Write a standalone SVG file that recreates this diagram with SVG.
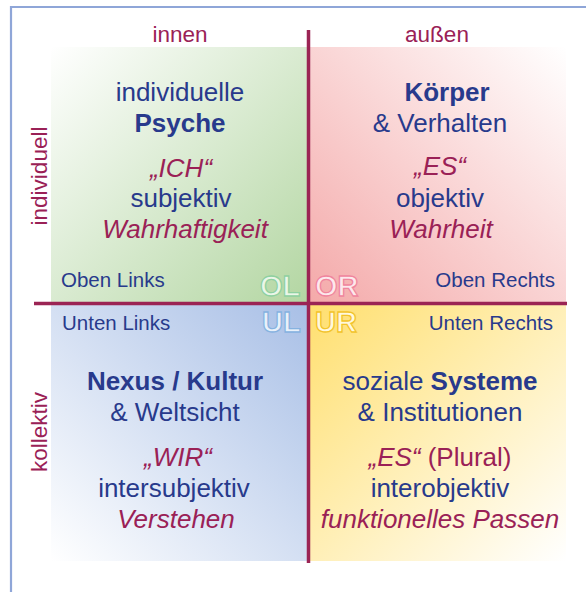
<svg xmlns="http://www.w3.org/2000/svg" width="586" height="592" viewBox="0 0 586 592">
<defs>
<linearGradient id="gGreen" x1="0" y1="0" x2="1" y2="1"><stop offset="0" stop-color="#ffffff"/><stop offset="1" stop-color="#b3d6a2"/></linearGradient>
<linearGradient id="gRed" x1="1" y1="0" x2="0" y2="1"><stop offset="0" stop-color="#ffffff"/><stop offset="1" stop-color="#f4a9a9"/></linearGradient>
<linearGradient id="gBlue" x1="0" y1="1" x2="1" y2="0"><stop offset="0" stop-color="#ffffff"/><stop offset="1" stop-color="#a8bfe6"/></linearGradient>
<linearGradient id="gYellow" x1="1" y1="1" x2="0" y2="0"><stop offset="0" stop-color="#ffffff"/><stop offset="1" stop-color="#ffdf6e"/></linearGradient>
</defs>
<style>
text{font-family:"Liberation Sans",Arial,Helvetica,sans-serif}
.main{font-size:26px;fill:#283a8c;text-anchor:middle}
.b{font-weight:bold}
.it{font-style:italic;fill:#9a2156}
.mar{fill:#9a2156}
.axis{font-size:22.5px;fill:#9a2156;text-anchor:middle}
.small{font-size:20.5px;fill:#283a8c}
.big{font-size:29px;font-weight:bold;stroke-width:1.3px}
.line{stroke:#9b2454;stroke-width:3.5;fill:none}
.frame{stroke:#8fa6d8;stroke-width:2.2;fill:none}
</style>
<path class="frame" d="M11,592 V7 H586"/>
<g id="quadrant-OL">
<rect x="51" y="47" width="257" height="256" fill="url(#gGreen)"/>
<text class="main" x="180" y="101">individuelle</text>
<text class="main b" x="180" y="132">Psyche</text>
<text class="main it" x="181" y="177">„ICH“</text>
<text class="main" x="181" y="207">subjektiv</text>
<text class="main it" x="185" y="238">Wahrhaftigkeit</text>
<text class="small" x="61" y="287">Oben Links</text>
<text class="big" x="260" y="296" fill="#eaf6e8" stroke="#8fd0a0">OL</text>
</g>
<g id="quadrant-OR">
<rect x="308" y="47" width="258" height="256" fill="url(#gRed)"/>
<text class="main b" x="447" y="101">Körper</text>
<text class="main" x="440" y="132">&amp; Verhalten</text>
<text class="main it" x="440" y="175">„ES“</text>
<text class="main" x="440" y="207">objektiv</text>
<text class="main it" x="441" y="238">Wahrheit</text>
<text class="small" x="555" y="287" text-anchor="end">Oben Rechts</text>
<text class="big" x="315" y="296" fill="#fde8ec" stroke="#f0859e">OR</text>
</g>
<g id="quadrant-UL">
<rect x="51" y="303" width="257" height="258" fill="url(#gBlue)"/>
<text class="main b" x="175" y="390">Nexus / Kultur</text>
<text class="main" x="175" y="421">&amp; Weltsicht</text>
<text class="main it" x="178" y="466">„WIR“</text>
<text class="main" x="174" y="497">intersubjektiv</text>
<text class="main it" x="176" y="528">Verstehen</text>
<text class="small" x="62" y="330">Unten Links</text>
<text class="big" x="262" y="332" fill="#e9f1fa" stroke="#86b2e0">UL</text>
</g>
<g id="quadrant-UR">
<rect x="308" y="303" width="258" height="258" fill="url(#gYellow)"/>
<text class="main" x="440" y="390">soziale <tspan class="b">Systeme</tspan></text>
<text class="main" x="440" y="421">&amp; Institutionen</text>
<text class="main mar" x="440" y="466"><tspan class="it">„ES“</tspan> (Plural)</text>
<text class="main" x="440" y="497">interobjektiv</text>
<text class="main it" x="440" y="528">funktionelles Passen</text>
<text class="small" x="553" y="330" text-anchor="end">Unten Rechts</text>
<text class="big" x="315" y="332" fill="#fff9dc" stroke="#f3c32a">UR</text>
</g>
<g id="axis-labels">
<text class="axis" x="180" y="42">innen</text>
<text class="axis" x="437" y="42">außen</text>
<text class="axis" transform="translate(46.5,176) rotate(-90)">individuell</text>
<text class="axis" transform="translate(46.5,432) rotate(-90)">kollektiv</text>
</g>
<g id="connectors">
<line class="line" x1="308.5" y1="30" x2="308.5" y2="563"/>
<line class="line" x1="34" y1="303.5" x2="567" y2="303.5"/>
</g>
</svg>
